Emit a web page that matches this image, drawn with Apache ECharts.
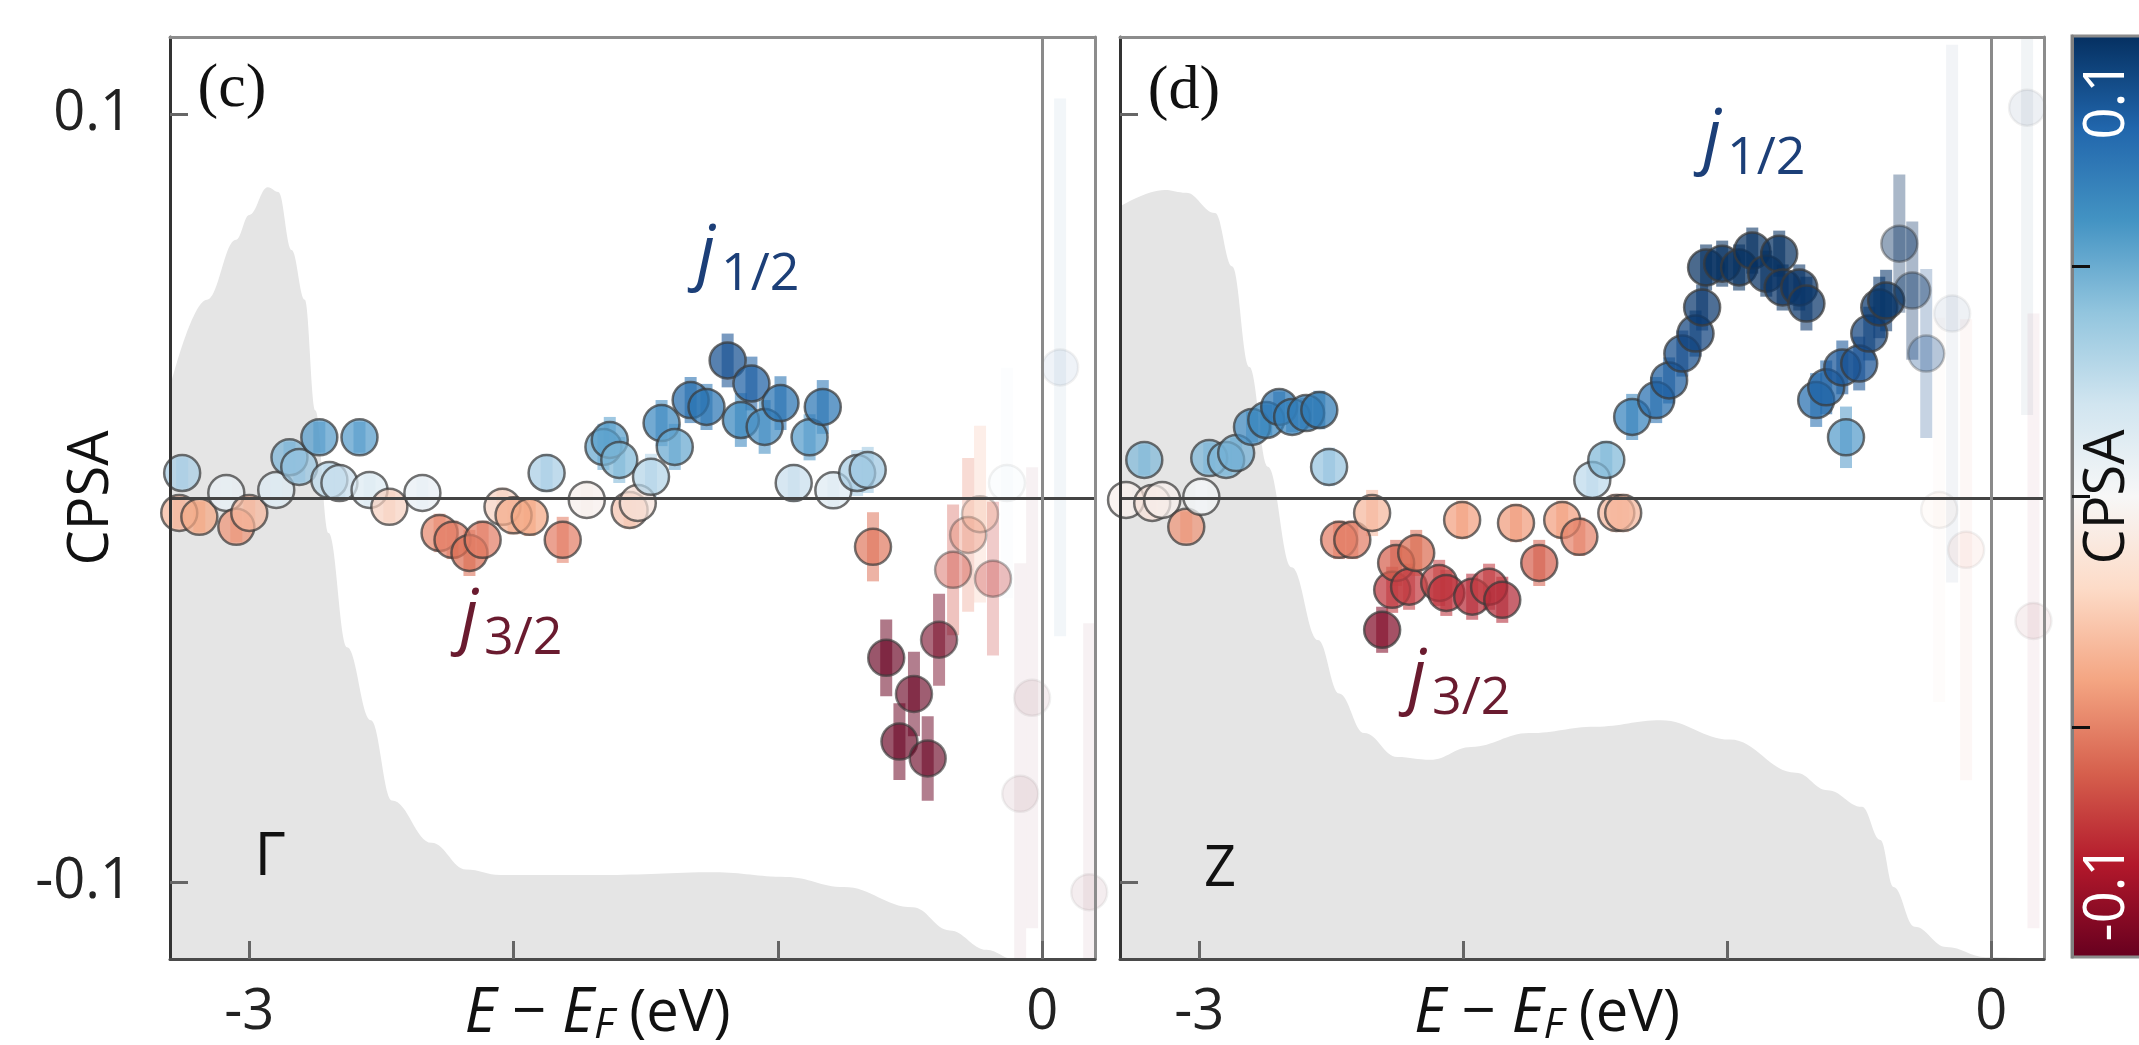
<!DOCTYPE html>
<html><head><meta charset="utf-8">
<script src="https://cdn.jsdelivr.net/npm/echarts@6/dist/echarts.min.js"></script>
<style>html,body{margin:0;padding:0;background:#fff;} #c{width:2139px;height:1045px;}</style>
</head><body><div id="c"></div>
<script>
// ---------- data ----------
const xTicks = [-3, -2, -1, 0];
const xTickLabels = [-3, 0];
const yTicks = [-0.1, 0.1];
const cbTicks = [-0.05, 0, 0.05];
const cbRange = [-0.1, 0.1];

// [E - EF (eV), CPSA, error]
const gammaData = [
  [-3.254, 0.0065, 0.004], [-3.265, -0.0039, 0.004], [-3.189, -0.0049, 0.004],
  [-3.087, 0.0013, 0.004], [-3.049, -0.0075, 0.004], [-3.000, -0.0039, 0.004],
  [-2.898, 0.0021, 0.004], [-2.848, 0.0106, 0.004], [-2.811, 0.0081, 0.004],
  [-2.735, 0.0158, 0.004], [-2.583, 0.0158, 0.004], [-2.697, 0.0047, 0.004],
  [-2.659, 0.0039, 0.004], [-2.545, 0.0021, 0.004], [-2.470, -0.0023, 0.004],
  [-2.345, 0.0013, 0.004], [-2.280, -0.0091, 0.005], [-2.231, -0.0109, 0.005],
  [-2.167, -0.0143, 0.006], [-2.117, -0.0109, 0.005], [-2.042, -0.0023, 0.005],
  [-2.000, -0.0045, 0.005], [-1.939, -0.0049, 0.005], [-1.875, 0.0065, 0.005],
  [-1.814, -0.0109, 0.006], [-1.723, -0.0005, 0.005], [-1.660, 0.0133, 0.006],
  [-1.636, 0.0151, 0.006], [-1.600, 0.0099, 0.006], [-1.561, -0.0031, 0.005],
  [-1.530, -0.0013, 0.005], [-1.480, 0.0055, 0.006], [-1.440, 0.0195, 0.006],
  [-1.390, 0.0133, 0.006], [-1.330, 0.0255, 0.006], [-1.270, 0.0237, 0.006],
  [-1.190, 0.0358, 0.007], [-1.140, 0.0203, 0.007], [-1.100, 0.0298, 0.007],
  [-1.050, 0.0185, 0.007], [-0.990, 0.0247, 0.007], [-0.940, 0.0039, 0.005],
  [-0.880, 0.0158, 0.006], [-0.830, 0.0237, 0.007], [-0.790, 0.0020, 0.005],
  [-0.700, 0.0065, 0.006], [-0.660, 0.0073, 0.006], [-0.640, -0.0127, 0.009],
  [-0.590, -0.0416, 0.010], [-0.485, -0.0510, 0.011], [-0.540, -0.0634, 0.010],
  [-0.433, -0.0678, 0.011], [-0.390, -0.0369, 0.012], [-0.337, -0.0187, 0.017],
  [-0.280, -0.0096, 0.020], [-0.235, -0.0042, 0.023], [-0.186, -0.0210, 0.020],
  [-0.133, 0.0039, 0.030], [-0.038, -0.0520, 0.060], [-0.083, -0.0770, 0.060],
  [0.068, 0.0340, 0.070], [0.178, -0.1026, 0.070]
];
const zData = [
  [-3.277, -0.0005, 0.004], [-3.208, 0.0099, 0.004], [-3.178, -0.0013, 0.004],
  [-3.140, -0.0005, 0.004], [-3.049, -0.0075, 0.004], [-2.992, 0.0003, 0.004],
  [-2.962, 0.0104, 0.004], [-2.898, 0.0099, 0.004], [-2.860, 0.0117, 0.004],
  [-2.800, 0.0185, 0.004], [-2.746, 0.0203, 0.004], [-2.697, 0.0237, 0.004],
  [-2.648, 0.0211, 0.004], [-2.595, 0.0221, 0.004], [-2.545, 0.0229, 0.005],
  [-2.508, 0.0081, 0.005], [-2.470, -0.0109, 0.005], [-2.420, -0.0109, 0.005],
  [-2.345, -0.0039, 0.006], [-2.307, -0.0343, 0.006], [-2.269, -0.0239, 0.006],
  [-2.254, -0.0169, 0.006], [-2.205, -0.0231, 0.006], [-2.178, -0.0143, 0.006],
  [-2.091, -0.0221, 0.006], [-2.064, -0.0247, 0.006], [-2.004, -0.0057, 0.005],
  [-1.966, -0.0257, 0.006], [-1.902, -0.0231, 0.006], [-1.852, -0.0265, 0.006],
  [-1.800, -0.0065, 0.005], [-1.712, -0.0169, 0.006], [-1.625, -0.0057, 0.005],
  [-1.560, -0.0101, 0.005], [-1.511, 0.0047, 0.005], [-1.458, 0.0099, 0.005],
  [-1.420, -0.0039, 0.005], [-1.394, -0.0039, 0.005], [-1.360, 0.0211, 0.006],
  [-1.269, 0.0255, 0.006], [-1.220, 0.0306, 0.006], [-1.170, 0.0376, 0.006],
  [-1.120, 0.0428, 0.006], [-1.095, 0.0496, 0.006], [-1.080, 0.0600, 0.006],
  [-1.019, 0.0610, 0.006], [-0.955, 0.0600, 0.006], [-0.905, 0.0644, 0.006],
  [-0.852, 0.0584, 0.006], [-0.803, 0.0636, 0.006], [-0.790, 0.0548, 0.006],
  [-0.727, 0.0548, 0.006], [-0.700, 0.0506, 0.007], [-0.663, 0.0255, 0.007],
  [-0.625, 0.0288, 0.007], [-0.550, 0.0158, 0.008], [-0.564, 0.0340, 0.007],
  [-0.500, 0.0350, 0.007], [-0.462, 0.0428, 0.007], [-0.424, 0.0496, 0.008],
  [-0.398, 0.0514, 0.008], [-0.348, 0.0662, 0.018], [-0.299, 0.0540, 0.018],
  [-0.246, 0.0376, 0.022], [-0.148, 0.0480, 0.070], [-0.197, -0.0031, 0.050],
  [-0.095, -0.0135, 0.060], [0.136, 0.1016, 0.080], [0.160, -0.0320, 0.080]
];

// density of states (arb. units), shaded background
const dosXGamma = [-3.30, -3.16, -3.05, -3.00, -2.93, -2.89, -2.84, -2.79, -2.75, -2.70, -2.63, -2.54, -2.46, -2.31, -2.18, -2.05, -1.67, -1.24, -0.97, -0.75, -0.49, -0.35, -0.21, -0.11, 0.0, 0.2];
const dosGamma  = [0.62, 0.715, 0.78, 0.807, 0.837, 0.832, 0.769, 0.715, 0.595, 0.462, 0.338, 0.259, 0.172, 0.126, 0.097, 0.091, 0.091, 0.094, 0.089, 0.078, 0.056, 0.031, 0.010, 0.0, 0.0, 0.0];
const dosXZ = [-3.30, -3.13, -3.05, -2.94, -2.875, -2.81, -2.74, -2.65, -2.55, -2.47, -2.375, -2.25, -2.125, -1.97, -1.75, -1.50, -1.25, -0.99, -0.74, -0.62, -0.49, -0.42, -0.37, -0.29, -0.17, -0.02, 0.2];
const dosZ  = [0.816, 0.834, 0.831, 0.809, 0.751, 0.642, 0.534, 0.425, 0.346, 0.288, 0.245, 0.219, 0.216, 0.230, 0.245, 0.252, 0.259, 0.238, 0.202, 0.183, 0.165, 0.129, 0.078, 0.035, 0.013, 0.002, 0.0];

// ---------- styles ----------
const rdbu = ['#67001f','#b2182b','#d6604d','#f4a582','#fddbc7','#f7f7f7','#d1e5f0','#92c5de','#4393c3','#2166ac','#053061'];
const pointColors = ['#67001f','#7d0b27','#a11f34','#bb2e3a','#cf5550','#d9694f','#e5836b','#f4a582','#f7f7f7',
  '#b9d7ea','#7fb7d8','#5a9fcc','#3a87bf','#2670b0','#1d5fa2','#175294','#124685','#0e3e78','#0a376c','#073265','#053061'];
const errRange = [0.008, 0.03];
const opacityRange = [0.72, 0.07];
const FONT = '"Open Sans", "DejaVu Sans", sans-serif';
const SERIF = '"Liberation Serif", "DejaVu Serif", serif';
const DARK = '#333';
const FRAME = '#8c8c8c';

const chart = echarts.init(document.getElementById('c'), null, {renderer: 'canvas'});

function zip(a, b) { return a.map((v, i) => [v, b[i]]); }
function errOpacity(e) {
  let t = (e - errRange[0]) / (errRange[1] - errRange[0]);
  t = Math.max(0, Math.min(1, t));
  return opacityRange[0] + t * (opacityRange[1] - opacityRange[0]);
}

function renderErr(params, api) {
  const x = api.value(0), y = api.value(1), e = api.value(2);
  const top = api.coord([x, y + e]);
  const bot = api.coord([x, y - e]);
  const w = 12;
  return {
    type: 'rect',
    shape: {x: top[0] - w / 2, y: top[1], width: w, height: bot[1] - top[1]},
    style: {fill: api.visual('color'), opacity: errOpacity(e) * 0.8}
  };
}
const cbStops = rdbu.slice().reverse().map((c, i) => ({offset: i / (rdbu.length - 1), color: c}));
function renderBar(params, api) {
  const p1 = api.coord([api.value(0), api.value(3)]);
  const p2 = api.coord([api.value(2), api.value(1)]);
  return {
    type: 'rect',
    shape: {x: p1[0], y: p1[1], width: p2[0] - p1[0], height: p2[1] - p1[1]},
    style: {fill: new echarts.graphic.LinearGradient(0, 0, 0, 1, cbStops)}
  };
}

const xName = '{i|E}{m| − }{i|E}{s|F}{u| (eV)}';
const xNameStyle = {
  fontSize: 56, color: '#111', fontFamily: FONT, padding: [0, 70, 0, 0],
  rich: {
    i: {fontSize: 62, fontStyle: 'italic', fontFamily: FONT, color: '#111'},
    m: {fontSize: 60, fontFamily: FONT, color: '#111'},
    s: {fontSize: 42, fontStyle: 'italic', fontFamily: FONT, color: '#111', padding: [24, 0, 0, 0]},
    u: {fontSize: 58, fontFamily: FONT, color: '#111'}
  }
};

function xAxisCfg(grid) {
  return {
    type: 'value', gridIndex: grid, position: 'bottom', min: -3.3, max: 0.2, z: 10,
    axisLine: {show: true, onZero: false, lineStyle: {color: '#4a4a4a', width: 3}},
    axisTick: {show: true, inside: true, length: 18, customValues: xTicks, lineStyle: {color: '#666', width: 3}},
    axisLabel: {show: true, customValues: xTickLabels, fontSize: 56, color: '#222', fontFamily: FONT, margin: 26},
    splitLine: {show: false},
    name: xName, nameLocation: 'middle', nameGap: 22, nameMoveOverlap: false, nameTextStyle: xNameStyle
  };
}
function topAxisCfg(grid) {
  return {
    type: 'value', gridIndex: grid, position: 'top', min: -3.3, max: 0.2, z: 10,
    axisLine: {show: true, onZero: false, lineStyle: {color: FRAME, width: 3}},
    axisTick: {show: false}, axisLabel: {show: false}, splitLine: {show: false}
  };
}
function yAxisCfg(grid, labels) {
  return {
    type: 'value', gridIndex: grid, position: 'left', min: -0.12, max: 0.12, z: 10,
    axisLine: {show: true, onZero: false, lineStyle: {color: DARK, width: 3}},
    axisTick: {show: true, inside: true, length: 18, customValues: yTicks, lineStyle: {color: '#666', width: 3}},
    axisLabel: {show: labels, customValues: yTicks, fontSize: 56, color: '#222', fontFamily: FONT, margin: 38},
    splitLine: {show: false},
    name: labels ? 'CPSA' : '', nameLocation: 'middle', nameRotate: 90, nameGap: 50, nameMoveOverlap: false,
    nameTextStyle: {fontSize: 56, color: '#111', fontFamily: FONT}
  };
}
function dosAxis(grid) {
  return {
    type: 'value', gridIndex: grid, position: 'right', min: 0, max: 1, z: 10,
    axisLine: {show: true, onZero: false, lineStyle: {color: FRAME, width: 3}},
    axisTick: {show: false}, axisLabel: {show: false}, splitLine: {show: false}
  };
}
const zeroLines = {
  silent: true, symbol: ['none', 'none'], label: {show: false}, animation: false,
  data: [
    {yAxis: 0, lineStyle: {color: '#444', width: 3, type: 'solid'}},
    {xAxis: 0, lineStyle: {color: '#8a8a8a', width: 3, type: 'solid'}}
  ]
};
function dosSeries(xi, yi, data) {
  return {
    type: 'line', xAxisIndex: xi, yAxisIndex: yi, data: data, smooth: 0.4, smoothMonotone: 'x',
    symbol: 'none', silent: true, z: 1,
    lineStyle: {width: 0, color: '#e5e5e5'}, areaStyle: {color: '#e5e5e5', opacity: 1}
  };
}
function errSeries(xi, yi, data) {
  return {type: 'custom', xAxisIndex: xi, yAxisIndex: yi, data: data, renderItem: renderErr,
    clip: true, z: 3, silent: true, encode: {x: 0, y: 1}};
}
function dotSeries(xi, yi, data) {
  return {type: 'scatter', xAxisIndex: xi, yAxisIndex: yi, data: data, symbolSize: 36, clip: true, z: 4,
    silent: true, encode: {x: 0, y: 1},
    itemStyle: {borderColor: '#3a3a3a', borderWidth: 2.5},
    markLine: zeroLines};
}

function jLabel(x, baseline, sub, color) {
  return [
    {type: 'text', x: x, y: baseline - 25, z: 100,
      style: {text: 'j', font: 'italic 72px ' + FONT, fill: color, align: 'left', verticalAlign: 'middle'}},
    {type: 'text', x: x + 24, y: baseline + 13 - 18, z: 100,
      style: {text: sub, font: '52px ' + FONT, fill: color, align: 'left', verticalAlign: 'middle'}}
  ];
}

const gridBase = {show: false, z: 3, outerBoundsMode: 'none', containLabel: false};
const option = {
  animation: false,
  backgroundColor: '#ffffff',
  grid: [
    Object.assign({left: 170, top: 37, width: 925, height: 922}, gridBase),
    Object.assign({left: 1120, top: 37, width: 924, height: 922}, gridBase),
    Object.assign({left: 2072, top: 36, width: 120, height: 921}, gridBase, {show: true, borderColor: FRAME, borderWidth: 3})
  ],
  xAxis: [
    xAxisCfg(0), xAxisCfg(1),
    {type: 'value', gridIndex: 2, min: 0, max: 1, show: false},
    topAxisCfg(0), topAxisCfg(1)
  ],
  yAxis: [
    yAxisCfg(0, true), dosAxis(0), yAxisCfg(1, false), dosAxis(1),
    {type: 'value', gridIndex: 2, min: cbRange[0], max: cbRange[1], z: 10,
      axisLine: {show: true, onZero: false, lineStyle: {color: '#808080', width: 3}},
      axisTick: {show: true, inside: true, length: 18, customValues: cbTicks, lineStyle: {color: '#111', width: 3}},
      axisLabel: {show: false}, splitLine: {show: false}}
  ],
  visualMap: [
    {type: 'continuous', show: false, seriesIndex: [2, 3, 4, 5], dimension: 1,
      min: -0.04, max: 0.06, inRange: {color: pointColors}},
    {type: 'continuous', show: false, seriesIndex: [4, 5], dimension: 2,
      min: errRange[0], max: errRange[1], inRange: {opacity: opacityRange}}
  ],
  series: [
    dosSeries(0, 1, zip(dosXGamma, dosGamma)),
    dosSeries(1, 3, zip(dosXZ, dosZ)),
    errSeries(0, 0, gammaData),
    errSeries(1, 2, zData),
    dotSeries(0, 0, gammaData),
    dotSeries(1, 2, zData),
    {type: 'custom', xAxisIndex: 2, yAxisIndex: 4, data: [[0, cbRange[0], 1, cbRange[1]]],
      renderItem: renderBar, silent: true, z: 2}
  ],
  graphic: [
    {type: 'text', x: 232, y: 90, z: 100, style: {text: '(c)', font: '62px ' + SERIF, fill: '#111', align: 'center', verticalAlign: 'middle'}},
    {type: 'text', x: 1184, y: 92, z: 100, style: {text: '(d)', font: '62px ' + SERIF, fill: '#111', align: 'center', verticalAlign: 'middle'}},
    {type: 'text', x: 270, y: 858, z: 100, style: {text: 'Γ', font: '60px ' + FONT, fill: '#111', align: 'center', verticalAlign: 'middle'}},
    {type: 'text', x: 1220, y: 870, z: 100, style: {text: 'Z', font: '56px ' + FONT, fill: '#111', align: 'center', verticalAlign: 'middle'}},
    ...jLabel(697, 280, '1/2', '#1c3f78'),
    ...jLabel(1703, 164, '1/2', '#1c3f78'),
    ...jLabel(460, 644, '3/2', '#6a1b2f'),
    ...jLabel(1408, 704, '3/2', '#6a1b2f'),
    {type: 'text', x: 2108, y: 100, rotation: Math.PI / 2, z: 100, style: {text: '0.1', font: '56px ' + FONT, fill: '#ffffff', align: 'center', verticalAlign: 'middle'}},
    {type: 'text', x: 2108, y: 497, rotation: Math.PI / 2, z: 100, style: {text: 'CPSA', font: '56px ' + FONT, fill: '#111', align: 'center', verticalAlign: 'middle'}},
    {type: 'text', x: 2108, y: 893, rotation: Math.PI / 2, z: 100, style: {text: '-0.1', font: '56px ' + FONT, fill: '#ffffff', align: 'center', verticalAlign: 'middle'}}
  ]
};
chart.setOption(option);
</script>
</body></html>
